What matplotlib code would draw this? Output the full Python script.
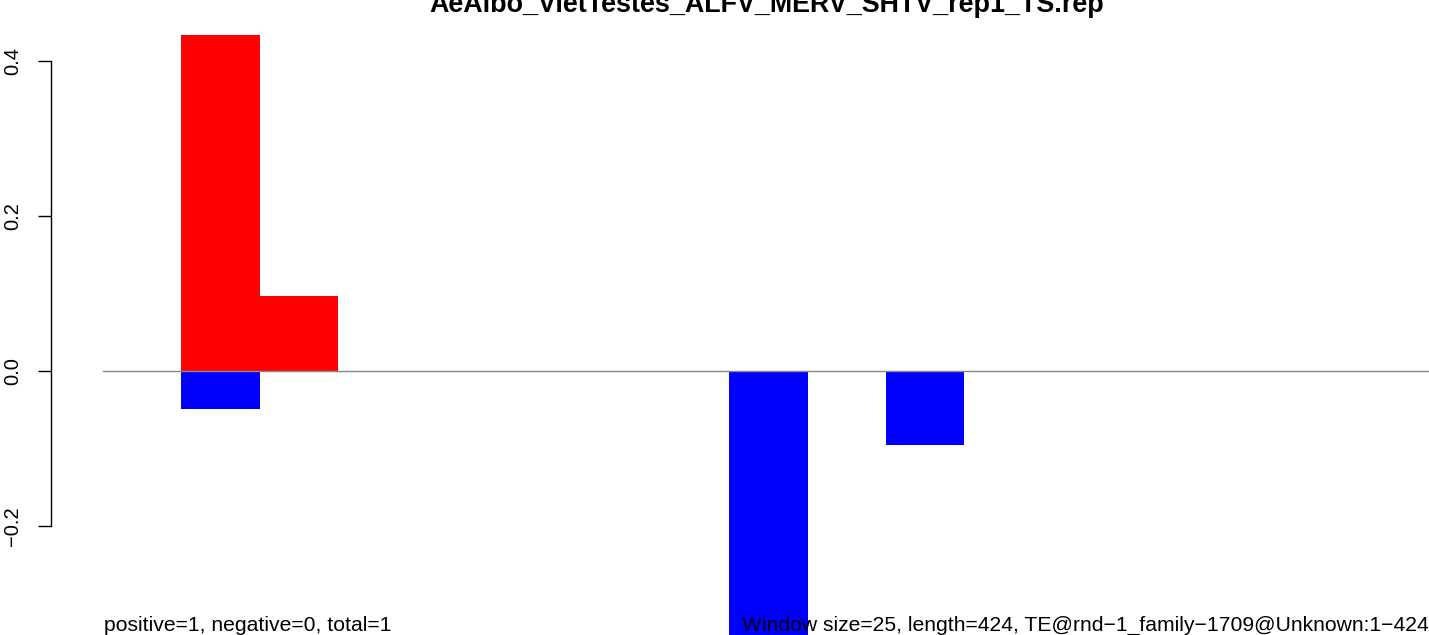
import matplotlib
matplotlib.use("Agg")
import matplotlib.pyplot as plt

plt.rcParams["font.family"] = ["Liberation Sans", "DejaVu Sans"]

TITLE = "AeAlbo_VietTestes_ALFV_MERV_SHTV_rep1_TS.rep"
NOTE_LEFT = "positive=1, negative=0, total=1"
NOTE_RIGHT = "Window size=25, length=424, TE@rnd\u22121_family\u22121709@Unknown:1\u2212424"

WINDOW = 25
LENGTH = 424
window_start = list(range(0, LENGTH, WINDOW))
pos_values = [0, 0.434, 0.097, 0, 0, 0, 0, 0, 0, 0, 0, 0, 0, 0, 0, 0, 0]
neg_values = [0, -0.049, 0, 0, 0, 0, 0, 0, -0.40, 0, -0.096, 0, 0, 0, 0, 0, 0]
yticks = [-0.2, 0.0, 0.2, 0.4]

W, H = 1429, 635
fig = plt.figure(figsize=(W / 100, H / 100), dpi=100)
ax = fig.add_axes([0, 0, 1, 1])

# pixel mapping: x=0bp at px 103, 3.132 px per bp; y=0 at px 371, 775 px per unit
px_bp = 3.132
x0 = -103 / px_bp
x1 = (W - 103) / px_bp
y1 = 371 / 775
y0 = -(H - 371) / 775
ax.set_xlim(x0, x1)
ax.set_ylim(y0, y1)

ax.bar(window_start, pos_values, width=WINDOW, align="edge", color="#ff0000", linewidth=0)
ax.bar(window_start, neg_values, width=WINDOW, align="edge", color="#0000ff", linewidth=0)
ax.plot([0, LENGTH], [0, 0], color="#888888", lw=1.0, zorder=3)

for s in ["top", "right", "bottom"]:
    ax.spines[s].set_visible(False)
ax.spines["left"].set_position(("data", (50.5 - 103) / px_bp))
ax.spines["left"].set_bounds(min(yticks), max(yticks))
ax.spines["left"].set_linewidth(1.0)
ax.set_xticks([])
ax.set_yticks(yticks)
ax.set_yticklabels([f"{v:.1f}".replace("-", "\u2212") for v in yticks],
                   rotation=90, va="center", fontsize=14.5)
ax.tick_params(axis="y", length=9.5, width=1.0, pad=11)

fig.text(767 / W, 1 - 12 / H, TITLE, ha="center", va="baseline",
         fontsize=19.4, fontweight="bold")
fig.text(104 / W, 1 - 631 / H, NOTE_LEFT, ha="left", va="baseline", fontsize=15.2)
fig.text(1429 / W, 1 - 631 / H, NOTE_RIGHT, ha="right", va="baseline", fontsize=15.2)

fig.savefig("out.png", dpi=100)
